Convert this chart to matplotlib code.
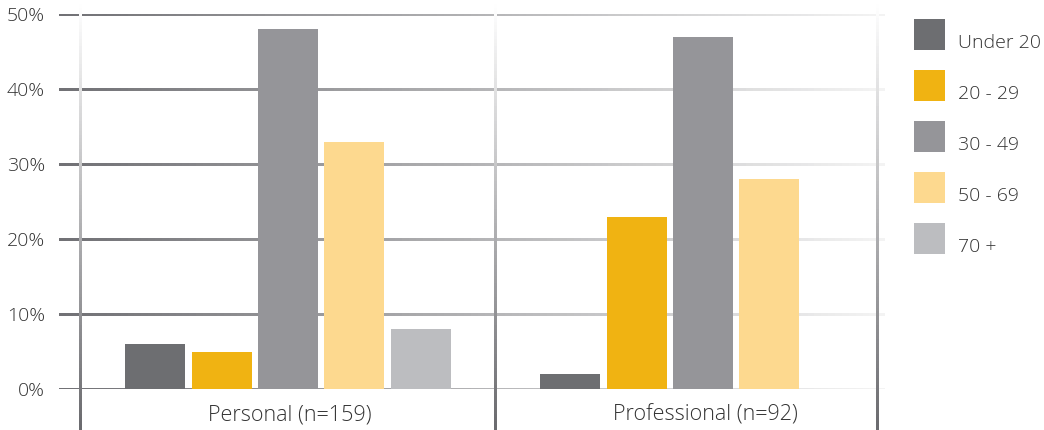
import numpy as np
import matplotlib
matplotlib.use("Agg")
import matplotlib.pyplot as plt
from matplotlib.collections import LineCollection
from matplotlib.patches import Rectangle
from matplotlib.colors import to_rgb

# ---- data ----
groups = ["Personal (n=159)", "Professional (n=92)"]
series = ["Under 20", "20 - 29", "30 - 49", "50 - 69", "70 +"]
under20 = [6, 2]
age20_29 = [5, 23]
age30_49 = [48, 47]
age50_69 = [33, 28]
age70p = [8, 0]
values = [under20, age20_29, age30_49, age50_69, age70p]
colors = ["#6d6e71", "#f0b312", "#959599", "#fdd98f", "#bcbdc0"]
yticks = [0, 10, 20, 30, 40, 50]
ytick_labels = ["0%", "10%", "20%", "30%", "40%", "50%"]

FONT = ["Open Sans", "DejaVu Sans"]
TXT = "#333333"
FS = 14
plt.rcParams['font.family'] = FONT

W, H = 1044, 430
fig = plt.figure(figsize=(W / 100, H / 100), dpi=100)
x0px, x1px = 59, 885
y0px, y1px = 389, 14
ax = fig.add_axes([x0px / W, (H - y0px) / H, (x1px - x0px) / W, (y0px - y1px) / H])
ax.set_ylim(0, 50)
ax.set_xlim(-0.5518, 1.4386)
for s in ax.spines.values():
    s.set_visible(False)
ax.set_xticks([])
ax.set_yticks([])


def grad_line(ax, xs, ys, c0, c1, lw, n=120, clip=True):
    t = np.linspace(0, 1, n + 1)
    px = xs[0] + (xs[1] - xs[0]) * t
    py = ys[0] + (ys[1] - ys[0]) * t
    segs = [[(px[i], py[i]), (px[i + 1], py[i + 1])] for i in range(n)]
    a0, a1 = np.array(to_rgb(c0)), np.array(to_rgb(c1))
    cols = [tuple(a0 + (a1 - a0) * ((i + 0.5) / n)) for i in range(n)]
    lc = LineCollection(segs, colors=cols, linewidths=lw, capstyle='projecting',
                        clip_on=clip, antialiased=False)
    ax.add_collection(lc)
    return lc


xl = ax.get_xlim()
for yv in yticks:
    grad_line(ax, (xl[0] + 0.002, xl[1] - 0.002), (yv, yv), "#707074", "#f4f4f4", 2.0)

# vertical lines (axis, divider, right border)
for xv in [-0.5012, 0.5, 1.419]:
    grad_line(ax, (xv, xv), (51.2, -5.3), "#ffffff", "#6a6a6e", 0.75, clip=False)

# bars
n = len(series)
step = 0.16
width = 0.1446
xg = np.arange(len(groups))
for i, (vals, c) in enumerate(zip(values, colors)):
    ax.bar(xg + (i - (n - 1) / 2) * step, vals, width=width, color=c, zorder=3,
           linewidth=0)

# y tick labels
for yv, lab in zip(yticks, ytick_labels):
    ax.text(-0.5518 - 14 / 415, yv - 0.3, lab, ha='right', va='center',
            fontsize=FS, color=TXT, fontweight='light', clip_on=False)

# group labels
for gx, lab in zip(xg, groups):
    ax.text(gx + 0.005, -3.5, lab, ha='center', va='center', fontsize=15.5,
            color=TXT, fontweight='light', clip_on=False)

# legend (manual)
for i, (lab, c) in enumerate(zip(series, colors)):
    top = 19 + 51 * i
    fig.add_artist(Rectangle((914 / W, (H - top - 31) / H), 31 / W, 31 / H,
                             transform=fig.transFigure, color=c, lw=0))
    fig.text(958 / W, (H - (43 + 51 * i)) / H, lab, ha='left', va='center',
             fontsize=FS, color=TXT, fontweight='light')

fig.savefig("out.png", dpi=100, facecolor="white")
